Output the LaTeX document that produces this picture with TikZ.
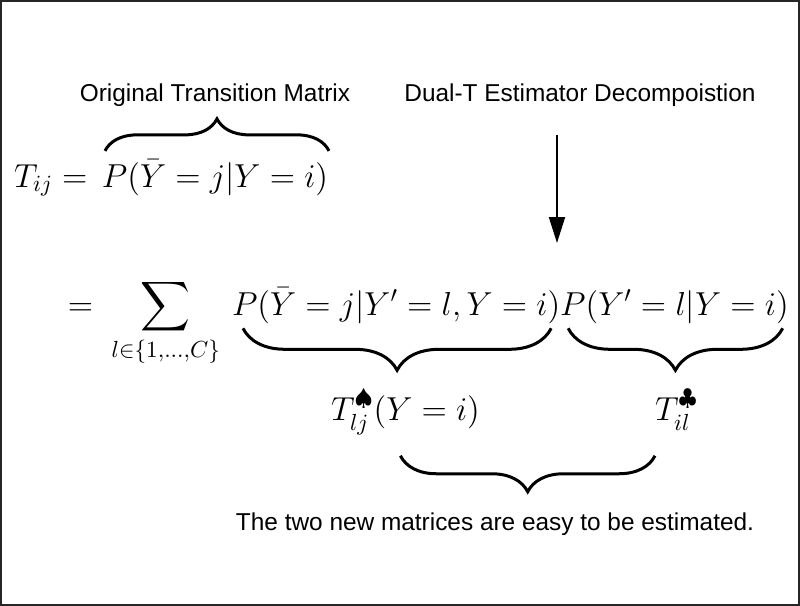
\documentclass[tikz,border=0pt]{standalone}
\usepackage{fix-cm}
\usepackage{exscale}
\usepackage{fontspec}
\setsansfont{Liberation Sans}
\usetikzlibrary{arrows.meta,calc,decorations.pathreplacing,positioning}

\begin{document}
\begin{tikzpicture}[
      x=0.5pt, y=-0.5pt,
      every node/.style={inner sep=0pt, outer sep=0pt},
      math/.style={anchor=base west, font=\fontsize{16.6}{20}\selectfont},
      words/.style={anchor=base, font=\sffamily\fontsize{12.2}{14}\selectfont},
      bracetop/.style={decorate, decoration={brace, amplitude=#1}, line width=1.5pt},
      bracebot/.style={decorate, decoration={brace, mirror, amplitude=#1}, line width=1.5pt},
      >={Triangle[length=13pt, width=8pt]}
    ]
      \useasboundingbox (0,0) rectangle (800,606);
      \draw[line width=1pt, black!85] (1,1) rectangle (799,605);

      % first line
      \node[math] (tij) at (14,187) {$T_{ij}=$};
      \node[math] (porig) at (102,187) {$P(\bar{Y}=j|Y=i)$};
      \node[words] (orig) at (215,101) {Original Transition Matrix};
      \node[words] (dualt) at (580,101) {Dual-T Estimator Decompoistion};
      \draw[bracetop=16pt] ([shift={(3,-9)}]porig.north west) -- ([shift={(1,-9)}]porig.north east);

      \coordinate (arrtop) at (557,135);
      \coordinate (arrtip) at (557,243);
      \draw[->, line width=1pt] (arrtop) -- (arrtip);

      % second line
      \node[math] (sum) at (68,315) {$=\mkern5mu\displaystyle\sum_{l\in\{1,\ldots,C\}}$};
      \node[math] (pfirst) at (232,315) {$P(\bar{Y}=j|Y'=l,Y=i)$};
      \node[math] (psecond) at (pfirst.base east) {$P(Y'=l|Y=i)$};
      \draw[bracebot=21pt] ([shift={(11,5)}]pfirst.south west) -- ([shift={(-9,5)}]pfirst.south east);
      \draw[bracebot=21pt] ([shift={(8,5)}]psecond.south west) -- ([shift={(-6,5)}]psecond.south east);

      % third line
      \node[math] (tspade) at (331,420) {$T^{\spadesuit}_{lj}(Y=i)$};
      \node[math] (tclub) at (655,420) {$T^{\clubsuit}_{il}$};
      \draw[bracebot=18pt] ($(tspade.south)+(-5,21)$) -- ($(tspade.south -| tclub.west)+(0,21)$);

      \node[words] (easy) at (495,530) {The two new matrices are easy to be estimated.};
    \end{tikzpicture}
\end{document}
